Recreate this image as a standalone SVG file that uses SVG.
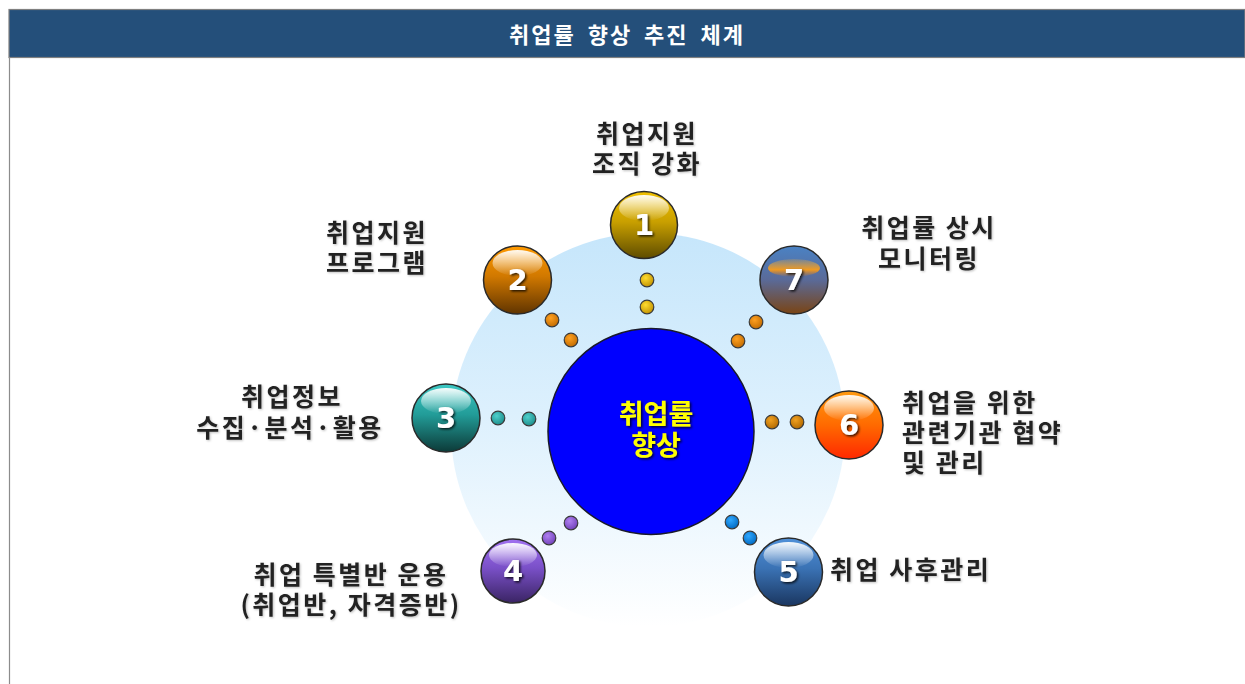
<svg xmlns="http://www.w3.org/2000/svg" width="1245" height="684" viewBox="0 0 1245 684">
<defs>
<style>
.lbl{font-family:"Noto Sans CJK KR","Noto Sans",sans-serif;font-weight:bold;font-size:25px;fill:#222222;letter-spacing:2.5px}
.num{font-family:"DejaVu Sans","Liberation Sans",sans-serif;font-weight:bold;font-size:29px;fill:#ffffff;text-anchor:middle}
.ball{stroke:#2a2a2a;stroke-width:1.5}
.dot{stroke:#3a3a3a;stroke-width:1.2}
.hl{fill:url(#hl)}
</style>
<filter id="sh" x="-20%" y="-20%" width="150%" height="150%">
<feDropShadow dx="1.5" dy="1.5" stdDeviation="0.8" flood-color="#000" flood-opacity="0.8"/>
</filter>
<filter id="tsh" x="-10%" y="-10%" width="130%" height="130%">
<feDropShadow dx="1" dy="1" stdDeviation="0.8" flood-color="#000" flood-opacity="0.25"/>
</filter>
<linearGradient id="glow" x1="0" y1="0" x2="0" y2="1">
<stop offset="0" stop-color="#c6e6fb"/>
<stop offset="0.45" stop-color="#dcf0fd"/>
<stop offset="1" stop-color="#ffffff"/>
</linearGradient>
<linearGradient id="hl" x1="0" y1="0" x2="0" y2="1">
<stop offset="0" stop-color="#ffffff" stop-opacity="0.95"/>
<stop offset="1" stop-color="#ffffff" stop-opacity="0"/>
</linearGradient>
<linearGradient id="hl7" x1="0" y1="0" x2="0" y2="1">
<stop offset="0" stop-color="#f0b040" stop-opacity="0.2"/>
<stop offset="0.6" stop-color="#f09a20" stop-opacity="1"/>
<stop offset="1" stop-color="#e08020" stop-opacity="0"/>
</linearGradient>
<linearGradient id="g1" x1="0" y1="0" x2="0" y2="1"><stop offset="0" stop-color="#f0c000"/><stop offset="0.45" stop-color="#c9a000"/><stop offset="1" stop-color="#5e4c00"/></linearGradient>
<linearGradient id="g2" x1="0" y1="0" x2="0" y2="1"><stop offset="0" stop-color="#ff9a00"/><stop offset="0.45" stop-color="#d07800"/><stop offset="1" stop-color="#603400"/></linearGradient>
<linearGradient id="g3" x1="0" y1="0" x2="0" y2="1"><stop offset="0" stop-color="#3cc8c4"/><stop offset="0.45" stop-color="#229c98"/><stop offset="1" stop-color="#0c3a38"/></linearGradient>
<linearGradient id="g4" x1="0" y1="0" x2="0" y2="1"><stop offset="0" stop-color="#a070f0"/><stop offset="0.45" stop-color="#7a50c8"/><stop offset="1" stop-color="#3a2464"/></linearGradient>
<linearGradient id="g5" x1="0" y1="0" x2="0" y2="1"><stop offset="0" stop-color="#5090d8"/><stop offset="0.45" stop-color="#3a72b4"/><stop offset="1" stop-color="#1a3660"/></linearGradient>
<linearGradient id="g6" x1="0" y1="0" x2="0" y2="1"><stop offset="0" stop-color="#ff9a10"/><stop offset="0.5" stop-color="#ff6a00"/><stop offset="1" stop-color="#ff2800"/></linearGradient>
<linearGradient id="g7" x1="0" y1="0" x2="0" y2="1"><stop offset="0" stop-color="#4a82c4"/><stop offset="0.5" stop-color="#5a6a98"/><stop offset="1" stop-color="#7a4414"/></linearGradient>
<radialGradient id="d1" cx="0.4" cy="0.35" r="0.7"><stop offset="0" stop-color="#ffdc30"/><stop offset="1" stop-color="#c09000"/></radialGradient>
<radialGradient id="d2" cx="0.4" cy="0.35" r="0.7"><stop offset="0" stop-color="#ffa020"/><stop offset="1" stop-color="#c06a00"/></radialGradient>
<radialGradient id="d3" cx="0.4" cy="0.35" r="0.7"><stop offset="0" stop-color="#50d0cc"/><stop offset="1" stop-color="#1a8a88"/></radialGradient>
<radialGradient id="d4" cx="0.4" cy="0.35" r="0.7"><stop offset="0" stop-color="#b080f0"/><stop offset="1" stop-color="#7040b8"/></radialGradient>
<radialGradient id="d5" cx="0.4" cy="0.35" r="0.7"><stop offset="0" stop-color="#30a8ff"/><stop offset="1" stop-color="#0068c0"/></radialGradient>
<radialGradient id="d6" cx="0.4" cy="0.35" r="0.7"><stop offset="0" stop-color="#f0a020"/><stop offset="1" stop-color="#b06800"/></radialGradient>
</defs>

<rect x="0" y="0" width="1245" height="684" fill="#ffffff"/>

<g id="header">
<rect x="9" y="9.5" width="1236" height="48" fill="#244f7a" stroke="#808080" stroke-width="1.2"/>
<line x1="9.5" y1="57" x2="9.5" y2="684" stroke="#8c8c8c" stroke-width="1.2"/>
<text x="627" y="43" text-anchor="middle" style="font-family:'Noto Sans CJK KR','Noto Sans',sans-serif;font-weight:bold;font-size:22px;fill:#ffffff;letter-spacing:2px;word-spacing:5px">취업률 향상 추진 체계</text>
</g>

<g id="glow-bg">
<circle cx="648" cy="430" r="197" fill="url(#glow)"/>
</g>

<g id="connectors">
<circle class="dot" cx="647" cy="280" r="6.8" fill="url(#d1)"/>
<circle class="dot" cx="647" cy="307" r="6.8" fill="url(#d1)"/>
<circle class="dot" cx="552" cy="320" r="6.8" fill="url(#d2)"/>
<circle class="dot" cx="571" cy="340" r="6.8" fill="url(#d2)"/>
<circle class="dot" cx="756" cy="322" r="6.8" fill="url(#d2)"/>
<circle class="dot" cx="738" cy="341" r="6.8" fill="url(#d2)"/>
<circle class="dot" cx="498" cy="418" r="6.8" fill="url(#d3)"/>
<circle class="dot" cx="529" cy="419" r="6.8" fill="url(#d3)"/>
<circle class="dot" cx="772" cy="422" r="6.8" fill="url(#d6)"/>
<circle class="dot" cx="797" cy="422" r="6.8" fill="url(#d6)"/>
<circle class="dot" cx="571" cy="523" r="6.8" fill="url(#d4)"/>
<circle class="dot" cx="549" cy="538" r="6.8" fill="url(#d4)"/>
<circle class="dot" cx="732" cy="522" r="6.8" fill="url(#d5)"/>
<circle class="dot" cx="750" cy="538" r="6.8" fill="url(#d5)"/>
</g>

<g id="center">
<circle cx="651" cy="431.5" r="103" fill="#0000ff" stroke="#1a1a2a" stroke-width="1.5"/>
<text text-anchor="middle" filter="url(#sh)" style="font-family:'Noto Sans CJK KR','Noto Sans',sans-serif;font-weight:bold;font-size:27px;fill:#ffff00"><tspan x="656" y="424">취업률</tspan><tspan x="656" y="455">향상</tspan></text>
</g>

<g id="node1">
<circle class="ball" cx="644" cy="225" r="33.5" fill="url(#g1)"/>
<ellipse class="hl" cx="644" cy="208" rx="25" ry="13"/>
<text class="num" x="644" y="235" filter="url(#sh)">1</text>
<text class="lbl" text-anchor="middle" filter="url(#tsh)"><tspan x="647" y="143">취업지원</tspan><tspan x="647" y="173">조직 강화</tspan></text>
</g>

<g id="node2">
<circle class="ball" cx="517.5" cy="280" r="34" fill="url(#g2)"/>
<ellipse class="hl" cx="517.5" cy="263" rx="25" ry="13"/>
<text class="num" x="517.5" y="290" filter="url(#sh)">2</text>
<text class="lbl" filter="url(#tsh)"><tspan x="326" y="242">취업지원</tspan><tspan x="326" y="272">프로그램</tspan></text>
</g>

<g id="node3">
<circle class="ball" cx="446" cy="418" r="34" fill="url(#g3)"/>
<ellipse class="hl" cx="446" cy="401" rx="25" ry="13"/>
<text class="num" x="446" y="428" filter="url(#sh)">3</text>
<text class="lbl" text-anchor="middle" filter="url(#tsh)"><tspan x="292" y="406">취업정보</tspan><tspan x="290" y="437">수집·분석·활용</tspan></text>
</g>

<g id="node4">
<circle class="ball" cx="513" cy="571" r="32" fill="url(#g4)"/>
<ellipse class="hl" cx="513" cy="555" rx="24" ry="12"/>
<text class="num" x="513" y="581" filter="url(#sh)">4</text>
<text class="lbl" text-anchor="middle" filter="url(#tsh)"><tspan x="351" y="584">취업 특별반 운용</tspan><tspan x="351" y="614">(취업반, 자격증반)</tspan></text>
</g>

<g id="node5">
<circle class="ball" cx="788.5" cy="572" r="34" fill="url(#g5)"/>
<ellipse class="hl" cx="788.5" cy="555" rx="25" ry="13"/>
<text class="num" x="788.5" y="582" filter="url(#sh)">5</text>
<text class="lbl" x="830" y="579" filter="url(#tsh)">취업 사후관리</text>
</g>

<g id="node6">
<circle class="ball" cx="849" cy="425" r="34" fill="url(#g6)"/>
<ellipse class="hl" cx="849" cy="408" rx="25" ry="13"/>
<text class="num" x="849" y="435" filter="url(#sh)">6</text>
<text class="lbl" filter="url(#tsh)"><tspan x="902" y="412">취업을 위한</tspan><tspan x="902" y="442">관련기관 협약</tspan><tspan x="902" y="472">및 관리</tspan></text>
</g>

<g id="node7">
<circle class="ball" cx="794" cy="280" r="34" fill="url(#g7)"/>
<ellipse cx="794" cy="268" rx="26" ry="9" fill="url(#hl7)"/>
<text class="num" x="794" y="290" filter="url(#sh)">7</text>
<text class="lbl" text-anchor="middle" filter="url(#tsh)"><tspan x="929" y="237">취업률 상시</tspan><tspan x="929" y="268">모니터링</tspan></text>
</g>
</svg>
